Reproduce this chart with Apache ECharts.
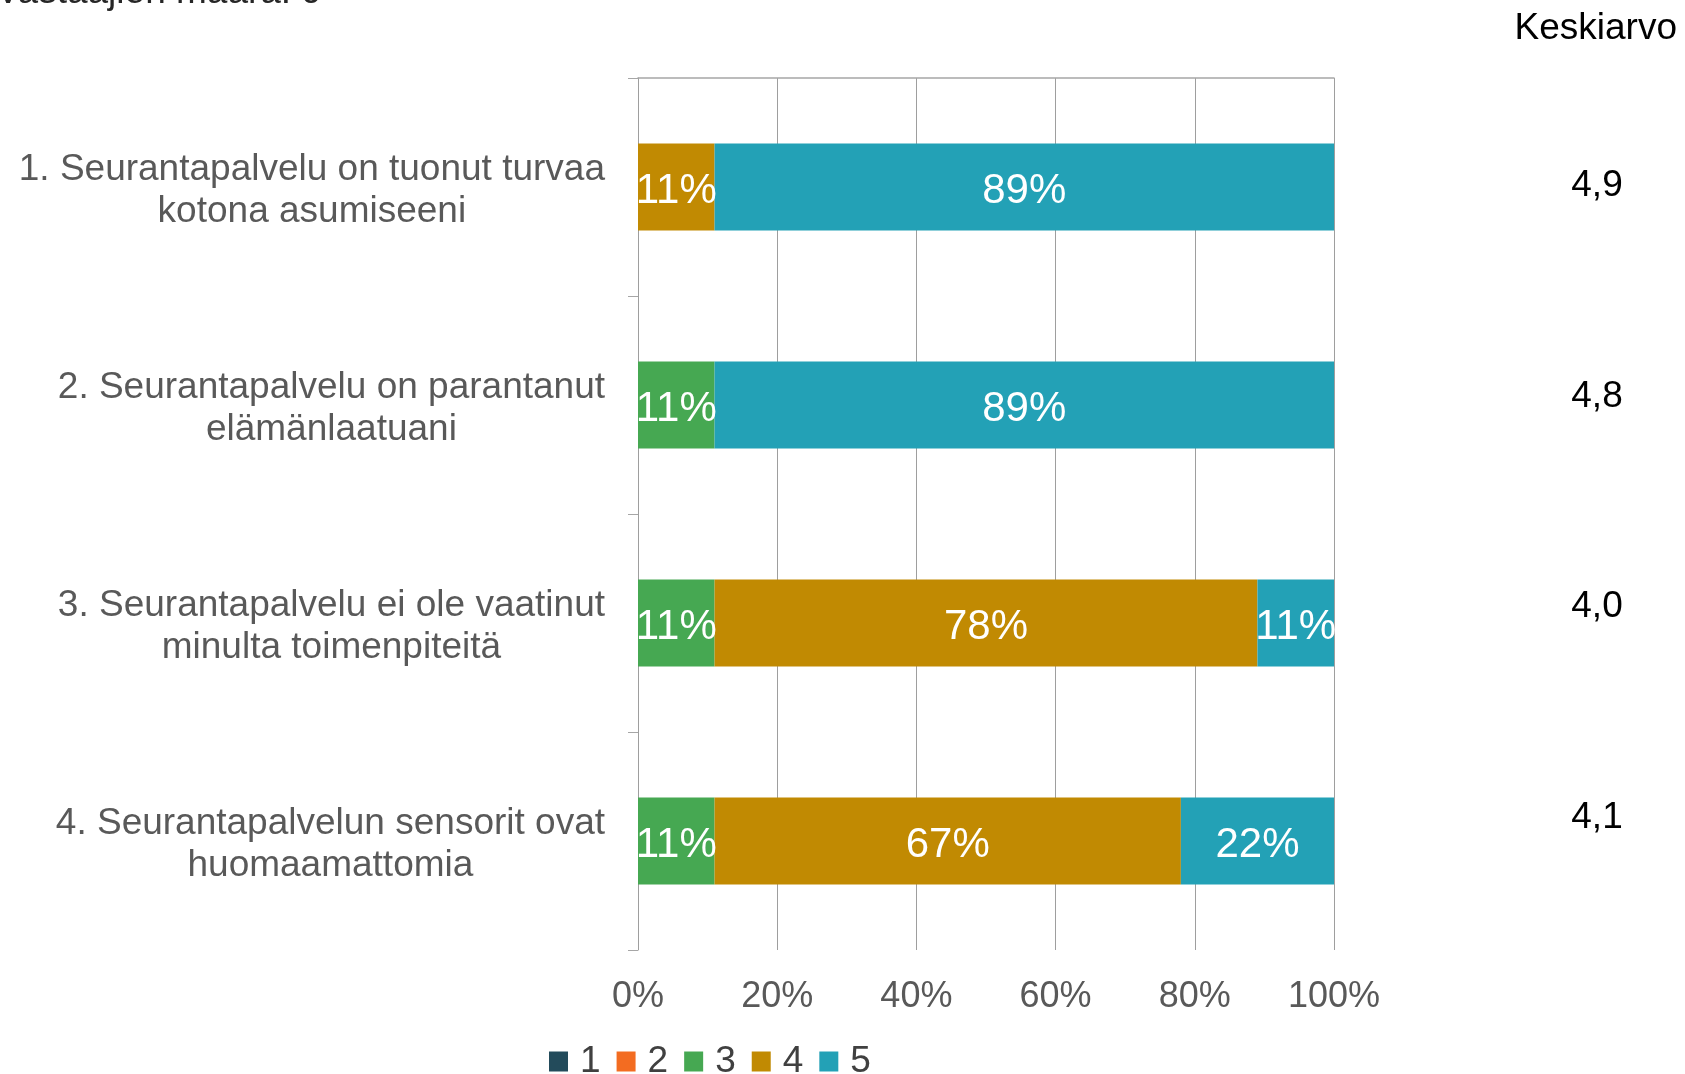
<!DOCTYPE html>
<html>
<head>
<meta charset="utf-8">
<script src="https://cdn.jsdelivr.net/npm/echarts@6/dist/echarts.min.js"></script>
<style>html,body{margin:0;padding:0;background:#fff}#c{width:1685px;height:1074px}</style>
</head>
<body>
<div id="c"></div>
<script>
var categories = [
  '1. Seurantapalvelu on tuonut turvaa\nkotona asumiseeni',
  '2. Seurantapalvelu on parantanut\nelämänlaatuani',
  '3. Seurantapalvelu ei ole vaatinut\nminulta toimenpiteitä',
  '4. Seurantapalvelun sensorit ovat\nhuomaamattomia'
];
var seriesNames = ['1', '2', '3', '4', '5'];
var values1 = [0, 0, 0, 0];
var values2 = [0, 0, 0, 0];
var values3 = [0, 11, 11, 11];
var values4 = [11, 0, 78, 67];
var values5 = [89, 89, 11, 22];
var means = ['4,9', '4,8', '4,0', '4,1'];
var xTicks = [0, 20, 40, 60, 80, 100];
var respondents = 'Vastaajien määrä: 9';
var meanTitle = 'Keskiarvo';

var colors = ['#234B5B', '#F36C21', '#46A852', '#C18A02', '#23A1B6'];
var FONT = "'Liberation Sans', Arial, sans-serif";
var allValues = [values1, values2, values3, values4, values5];

var chart = echarts.init(document.getElementById('c'), null, {renderer: 'canvas'});

var series = seriesNames.map(function (name, i) {
  return {
    name: name,
    type: 'bar',
    stack: 'total',
    barCategoryGap: '60%',
    itemStyle: {color: colors[i]},
    label: {
      show: true,
      position: 'inside',
      offset: [0, 4],
      color: '#ffffff',
      fontFamily: FONT,
      fontSize: 42,
      formatter: function (p) { return p.value > 0 ? p.value + '%' : ''; }
    },
    data: allValues[i]
  };
});

var meanY = [186, 397, 607, 818];
var graphics = [
  {type: 'text', right: 8, top: 10, style: {text: meanTitle, font: '37px ' + FONT, fill: '#000000'}},
  {type: 'text', x: 322, y: -7, style: {text: respondents, font: '37px ' + FONT, fill: '#262626', align: 'right', verticalAlign: 'middle'}}
];
means.forEach(function (m, i) {
  graphics.push({type: 'text', x: 1597, y: meanY[i], style: {text: m, font: '37px ' + FONT, fill: '#000000', align: 'center', verticalAlign: 'middle'}});
});

var catText = {color: '#595959', fontFamily: FONT, fontSize: 37, lineHeight: 42, align: 'center'};
var GRID_COLOR = '#9E9E9E';

chart.setOption({
  animation: false,
  backgroundColor: '#ffffff',
  color: colors,
  grid: {left: 638, right: 351, top: 78, bottom: 124, containLabel: false, outerBoundsMode: 'none'},
  legend: {
    data: seriesNames,
    left: 544,
    top: 1038,
    icon: 'rect',
    itemWidth: 19,
    itemHeight: 20,
    itemGap: 16,
    textStyle: {color: '#404040', fontFamily: FONT, fontSize: 37, padding: [0, 0, 0, 7]}
  },
  xAxis: [{
    type: 'value',
    position: 'bottom',
    min: 0,
    max: 100,
    interval: 20,
    axisLine: {show: false},
    axisTick: {show: false},
    splitLine: {show: true, lineStyle: {color: GRID_COLOR, width: 1}},
    axisLabel: {
      color: '#595959', fontFamily: FONT, fontSize: 36, margin: 29,
      showMinLabel: true, showMaxLabel: true, hideOverlap: false,
      formatter: function (v) { return xTicks.indexOf(v) >= 0 ? v + '%' : ''; }
    }
  }, {
    type: 'value',
    position: 'top',
    min: 0,
    max: 100,
    interval: 20,
    axisLine: {show: true, lineStyle: {color: '#A6A6A6', width: 1.5}},
    axisTick: {show: false},
    axisLabel: {show: false},
    splitLine: {show: false}
  }],
  yAxis: {
    type: 'category',
    inverse: true,
    data: categories,
    axisLine: {show: true, lineStyle: {color: GRID_COLOR, width: 1}},
    axisTick: {show: true, length: 10, lineStyle: {color: '#A6A6A6', width: 1}},
    axisLabel: {
      margin: 33,
      align: 'right',
      color: '#595959', fontFamily: FONT, fontSize: 37, lineHeight: 42,
      formatter: function (v) {
        return '{s| }\n' + v.split('\n').map(function (line) {
          return '{a|' + line + '}';
        }).join('\n');
      },
      rich: {
        a: catText,
        s: {fontSize: 1, lineHeight: 7, align: 'center'}
      }
    }
  },
  series: series,
  graphic: graphics
});
</script>
</body>
</html>
